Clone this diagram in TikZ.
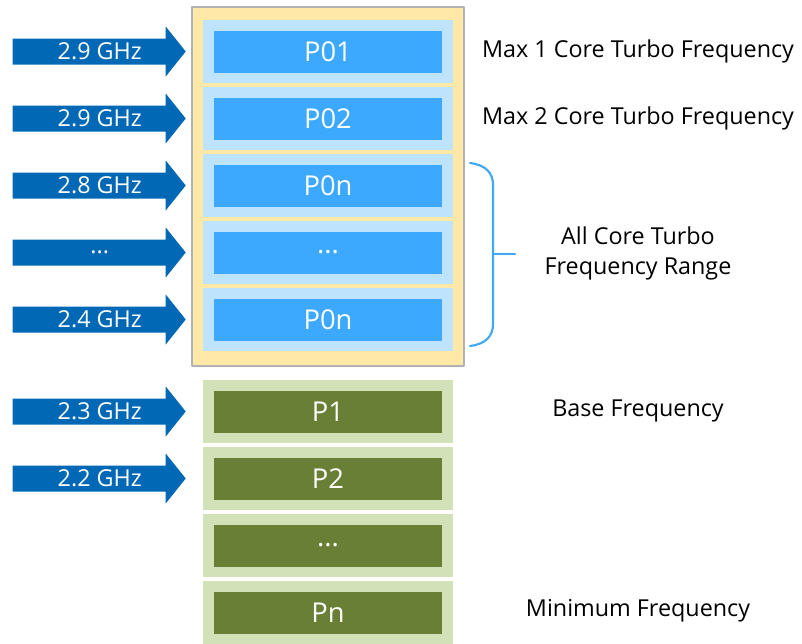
\documentclass[tikz,border=0pt]{standalone}
\usepackage{fontspec}
\setmainfont{Open Sans}
\usetikzlibrary{positioning,calc}
\definecolor{panelyel}{RGB}{255,232,168}
\definecolor{panelgray}{RGB}{178,178,178}
\definecolor{rowblue}{RGB}{190,227,252}
\definecolor{boxblue}{RGB}{60,169,255}
\definecolor{arrowblue}{RGB}{0,104,181}
\definecolor{rowgreen}{RGB}{211,225,184}
\definecolor{boxgreen}{RGB}{104,127,53}
\definecolor{bracecol}{RGB}{63,169,245}
\newcommand\threedots{...}

\tikzset{
  turborow/.style={fill=rowblue,minimum width=187.5pt,minimum height=47.25pt,inner sep=0},
  baserow/.style={fill=rowgreen,minimum width=187.5pt,minimum height=47.25pt,inner sep=0},
  turbobox/.style={fill=boxblue,text=white,minimum width=171pt,minimum height=31.5pt,inner sep=0,font=\fontsize{20.5}{24}\selectfont},
  basebox/.style={fill=boxgreen,text=white,minimum width=171pt,minimum height=31.5pt,inner sep=0,font=\fontsize{20.5}{24}\selectfont},
  freqtext/.style={text=white,inner sep=0,font=\fontsize{17.5}{20}\selectfont},
  sidetext/.style={align=center,inner sep=0,font=\fontsize{17.5}{22.5}\selectfont},
}

\begin{document}
\begin{tikzpicture}[x=0.75pt,y=-0.75pt,line cap=round,line join=round]
\useasboundingbox (0,0) rectangle (802,643);
\clip (0,0) rectangle (802,643);

% turbo panel
\draw[fill=panelyel,draw=panelgray,line width=0.9pt] (192,7) rectangle (464,366);

% turbo rows
\foreach \i/\lbl/\nm in {0/P01/t1,1/P02/t2,2/P0n/t3,3/\threedots/t4,4/P0n/t5}{
  \node[turborow] (row\nm) at (328,51.5+67*\i) {};
  \node[turbobox] (box\nm) at (row\nm) {\lbl};
}

% base rows
\foreach \i/\lbl/\nm in {0/P1/b1,1/P2/b2,2/\threedots/b3,3/Pn/b4}{
  \node[baserow] (row\nm) at (328,411.5+67*\i) {};
  \node[basebox] (box\nm) at (row\nm) {\lbl};
}

% frequency arrows
\foreach \r/\f in {t1/2.9 GHz,t2/2.9 GHz,t3/2.8 GHz,t4/\threedots,t5/2.4 GHz,b1/2.3 GHz,b2/2.2 GHz}{
  \coordinate (tip\r) at ($(row\r.west)+(-17,0)$);
  \fill[arrowblue] (tip\r) -- ++(-20,-25) -- ++(0,12) -- ++(-153,0) -- ++(0,26)
    -- ++(153,0) -- ++(0,12) -- cycle;
  \node[freqtext] (freq\r) at ($(tip\r)+(-86,0)$) {\f};
}

% brace for all core range
\draw[bracecol,line width=1.6pt] (470,163) .. controls (486,165) and (493,173) .. (493,185)
  -- (493,324) .. controls (493,336) and (486,344) .. (470,346);
\coordinate (bracemid) at (493,254);
\draw[bracecol,line width=1.6pt] (bracemid) -- ++(22,0);

% labels
\node[sidetext] (lbl1) at (638,51.5) {Max 1 Core Turbo Frequency};
\node[sidetext] (lbl2) at (638,118.5) {Max 2 Core Turbo Frequency};
\node[sidetext] (lblall) at (638,253) {All Core Turbo\\Frequency Range};
\node[sidetext] (lblbase) at (638,411) {Base Frequency};
\node[sidetext] (lblmin) at (638,611) {Minimum Frequency};
\end{tikzpicture}
\end{document}
